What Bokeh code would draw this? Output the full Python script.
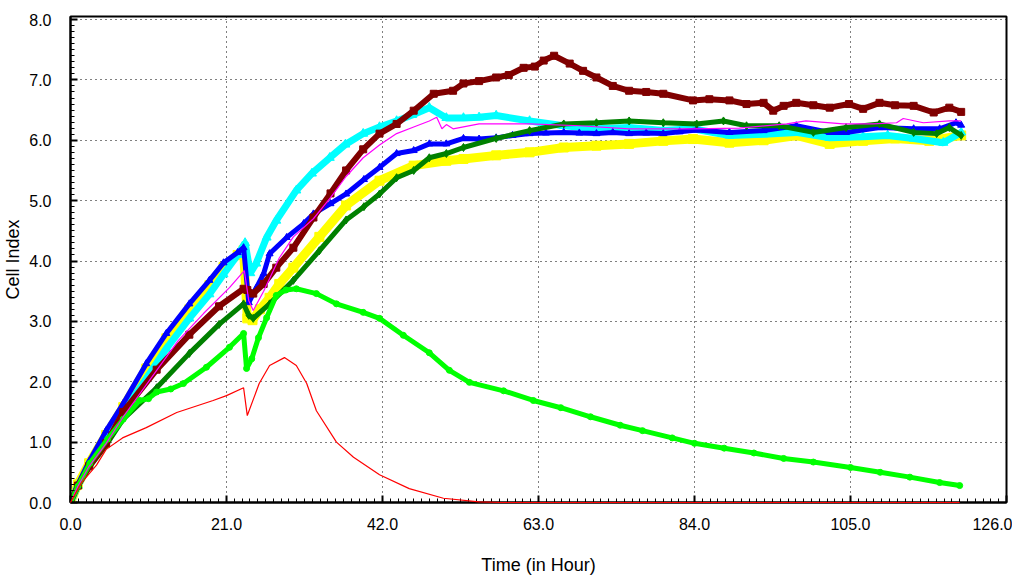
from bokeh.plotting import figure
from bokeh.models import Range1d, NumeralTickFormatter, SingleIntervalTicker
from bokeh.embed import file_html
from bokeh.resources import INLINE

# ---------------- data (hours, cell index) ----------------
blue_t = [0, 1, 2.5, 4.8, 7.1, 10.2, 12.9, 16.0, 18.7, 20.6, 22.5, 23.3, 24.0, 25.0, 26.0, 26.8, 29.1, 31.4,
          32.7, 35, 37.1, 39.5, 41.6, 43.9, 46.2, 48.3, 50.6, 52.9, 55, 57.3, 59.5, 61.8, 64, 66.4, 68.5, 70.8,
          73, 75.2, 77.5, 79.8, 82, 84.3, 88.7, 93.3, 97.7, 102.2, 104.4, 108.9, 113.5, 117, 119.2, 119.9]
blue_v = [0, 0.3, 0.68, 1.19, 1.64, 2.3, 2.8, 3.29, 3.68, 3.97, 4.14, 4.22, 3.31, 3.55, 3.79, 4.12, 4.39, 4.62,
          4.78, 4.95, 5.11, 5.35, 5.55, 5.78, 5.83, 5.94, 5.94, 6.03, 6.02, 6.04, 6.08, 6.11, 6.12, 6.13, 6.12, 6.11,
          6.13, 6.11, 6.12, 6.11, 6.14, 6.17, 6.13, 6.16, 6.24, 6.13, 6.13, 6.21, 6.19, 6.19, 6.29, 6.25]

yellow_t = [0, 1, 2.5, 4.8, 7.1, 10.2, 12.9, 16, 18.7, 20.6, 22.5, 23.3, 23.8, 24.5, 25.5, 26.8, 28.1, 30,
            33.5, 37.1, 41.6, 46.2, 50.6, 52.9, 57.3, 61.8, 66.4, 70.8, 75.2, 79.8, 83.8, 88.7, 93.3, 97.7,
            102.2, 106.7, 111, 115.6, 119.9]
yellow_v = [0, 0.3, 0.65, 1.12, 1.58, 2.22, 2.72, 3.2, 3.6, 3.9, 4.1, 4.18, 3.05, 3.02, 3.2, 3.39, 3.62, 3.89,
            4.4, 4.92, 5.33, 5.58, 5.66, 5.69, 5.75, 5.8, 5.88, 5.91, 5.94, 5.99, 6.02, 5.96, 6.0, 6.08,
            5.94, 5.99, 6.03, 5.99, 6.08]

cyan_t = [0, 1, 2.5, 4.8, 7.1, 10.2, 12.9, 16, 18.7, 20.6, 22.5, 23.5, 24.2, 25, 26.4, 27.7, 30.4, 32.5, 34.9,
          37, 39.4, 41.6, 43.9, 46, 48.3, 50.6, 52.9, 55, 57.3, 61.8, 66.4, 70.8, 75.2, 79.8, 83.8, 88.7, 93.3,
          97.7, 102.2, 106.7, 110, 113.5, 117.5, 119.9]
cyan_v = [0, 0.28, 0.62, 1.05, 1.5, 2.05, 2.55, 3.05, 3.45, 3.78, 4.1, 4.3, 3.8, 3.96, 4.39, 4.67, 5.17, 5.45, 5.71,
          5.93, 6.11, 6.22, 6.32, 6.42, 6.54, 6.37, 6.37, 6.38, 6.41, 6.32, 6.24, 6.19, 6.21, 6.16, 6.19, 6.08, 6.1,
          6.13, 6.04, 6.06, 6.08, 6.03, 5.96, 6.13]

magenta_t = [0, 1, 2.5, 4.8, 7.1, 11.6, 14.5, 17.9, 21.4, 23.4, 24.0, 24.6, 26, 28.1, 30, 32.7, 35, 37.1, 39.4,
             41.6, 43.9, 46.2, 48.3, 49.3, 50.0, 50.6, 51.5, 55, 61.8, 68.5, 75.2, 83.8, 90, 96.4, 99, 104, 108,
             111.2, 112.1, 114.8, 118.3, 119.9]
magenta_v = [0, 0.27, 0.6, 0.98, 1.42, 2.19, 2.68, 3.13, 3.56, 3.84, 3.34, 3.18, 3.5, 4.05, 4.4, 4.7, 5.05, 5.4, 5.71,
             5.92, 6.11, 6.22, 6.32, 6.38, 6.19, 6.26, 6.19, 6.27, 6.27, 6.24, 6.19, 6.19, 6.2, 6.27, 6.32, 6.27, 6.27,
             6.29, 6.36, 6.29, 6.32, 6.32]

maroon_t = [0, 1, 2.5, 4.8, 7.1, 11.6, 16, 20, 23.3, 23.8, 24.6, 26, 27.7, 30, 32.7, 35, 37.1, 39.4, 41.6, 43.9,
            46.2, 48.9, 51.5, 52.9, 55, 57.3, 59, 61, 62.5, 63.7, 65.1, 67.2, 69, 70.8, 73, 75.2, 77.5, 79.8, 83.8,
            86, 88.7, 91, 93.3, 94.6, 96, 97.7, 100, 102.2, 104.8, 106.7, 108.9, 111, 113.5, 116.2, 118.3, 119.9]
maroon_v = [0, 0.28, 0.6, 0.98, 1.5, 2.2, 2.78, 3.25, 3.54, 3.52, 3.46, 3.62, 3.89, 4.22, 4.72, 5.12, 5.5, 5.85, 6.11,
            6.27, 6.49, 6.77, 6.82, 6.94, 6.98, 7.04, 7.08, 7.2, 7.22, 7.32, 7.4, 7.27, 7.15, 7.04, 6.9, 6.82, 6.8,
            6.77, 6.66, 6.68, 6.66, 6.6, 6.62, 6.49, 6.57, 6.62, 6.58, 6.54, 6.6, 6.52, 6.62, 6.58, 6.57, 6.46,
            6.54, 6.47]

dkgreen_t = [0, 1, 2.5, 4.8, 7.1, 11.6, 16, 20, 23.3, 24.0, 24.6, 26.8, 30, 33.5, 37.1, 39.5, 41.6, 43.9, 46.2,
             48.3, 50.6, 52.9, 57.3, 61.8, 66.4, 70.8, 75.2, 79.8, 84.3, 87.9, 91, 95.4, 100, 104.4, 108.9, 113.5,
             116.6, 118.3, 119.9]
dkgreen_v = [0, 0.27, 0.58, 0.95, 1.38, 1.9, 2.47, 2.95, 3.29, 3.1, 3.05, 3.29, 3.68, 4.17, 4.68, 4.9, 5.11, 5.38,
             5.5, 5.71, 5.78, 5.88, 6.03, 6.16, 6.27, 6.29, 6.32, 6.29, 6.27, 6.32, 6.24, 6.24, 6.13, 6.21, 6.27,
             6.13, 6.11, 6.21, 6.08]

lime_t = [0, 1, 2.6, 5, 7.1, 9.3, 10.5, 11.6, 13.5, 15.2, 18.3, 21.4, 23.3, 23.7, 24.4, 25.3, 26.4, 27.7, 29,
          30.4, 33.1, 35.8, 39.4, 41.6, 44.8, 48.3, 51, 53.7, 58.3, 62.3, 66, 70, 74, 77, 81, 84, 88, 92, 96,
          100, 105, 109, 113, 117, 119.7]
lime_v = [0, 0.27, 0.65, 1.05, 1.38, 1.69, 1.72, 1.83, 1.88, 1.97, 2.24, 2.57, 2.8, 2.22, 2.38, 2.73, 3.06, 3.43,
          3.52, 3.54, 3.46, 3.29, 3.15, 3.05, 2.77, 2.48, 2.19, 1.99, 1.85, 1.69, 1.57, 1.42, 1.28, 1.19, 1.07,
          0.98, 0.9, 0.82, 0.73, 0.67, 0.58, 0.5, 0.42, 0.33, 0.28]

red_t = [0, 1.5, 3.5, 4.8, 7, 10.2, 14.3, 19.2, 21, 23.3, 23.8, 25.4, 26.8, 28.8, 30.4, 31.8, 33.1, 35.8, 38.1,
         41.6, 45.6, 50.2, 55, 58, 119.7]
red_v = [0, 0.33, 0.62, 0.88, 1.07, 1.24, 1.49, 1.69, 1.77, 1.9, 1.44, 1.97, 2.27, 2.4, 2.27, 1.97, 1.52, 1.0, 0.75,
         0.46, 0.23, 0.07, 0.01, 0, 0]

x_label = "Time (in Hour)"
y_label = "Cell Index"

# ---------------- figure ----------------
p = figure(frame_width=936, frame_height=486, output_backend="svg", toolbar_location=None,
           x_range=Range1d(0, 126), y_range=Range1d(0, 8.05),
           min_border_left=66, min_border_right=6, min_border_top=16, min_border_bottom=62,
           background_fill_color="white", border_fill_color="white")
p.outline_line_color = "black"
p.outline_line_width = 2

FONT = "Liberation Sans"

p.xaxis.ticker = SingleIntervalTicker(interval=21, num_minor_ticks=20)
p.yaxis.ticker = SingleIntervalTicker(interval=1, num_minor_ticks=10)
for ax in (p.xaxis[0], p.yaxis[0]):
    ax.formatter = NumeralTickFormatter(format="0.0")
    ax.axis_line_color = "black"
    ax.axis_line_width = 2
    ax.major_tick_in = 7
    ax.major_tick_out = 0
    ax.minor_tick_in = 4
    ax.minor_tick_out = 0
    ax.major_tick_line_color = "black"
    ax.minor_tick_line_color = "black"
    ax.major_tick_line_width = 2
    ax.major_label_text_font = FONT
    ax.major_label_text_font_size = "16px"
    ax.major_label_text_color = "black"
    ax.axis_label_text_font = FONT
    ax.axis_label_text_font_size = "18px"
    ax.axis_label_text_font_style = "normal"
    ax.axis_label_text_color = "black"

p.xaxis.axis_label = x_label
p.yaxis.axis_label = y_label
p.xaxis.major_label_standoff = 15
p.xaxis.axis_label_standoff = 22
p.yaxis.major_label_standoff = 19
p.yaxis.axis_label_standoff = 3

for g in (p.xgrid[0], p.ygrid[0]):
    g.grid_line_color = "black"
    g.grid_line_dash = "1 4"
    g.grid_line_width = 1

# ---------------- series ----------------
p.line(yellow_t, yellow_v, line_color="#FFFF00", line_width=9)
p.scatter(yellow_t, yellow_v, marker="square", size=9, fill_color="#FFFF00", line_color="#FFFF00")

p.line(cyan_t, cyan_v, line_color="#00FFFF", line_width=7)
p.scatter(cyan_t, cyan_v, marker="triangle", size=9, fill_color="#00FFFF", line_color="#00FFFF")

p.line(blue_t, blue_v, line_color="#0000FF", line_width=5)
p.scatter(blue_t, blue_v, marker="triangle", size=7, fill_color="#0000FF", line_color="#0000FF")

p.line(dkgreen_t, dkgreen_v, line_color="#008000", line_width=5)
p.scatter(dkgreen_t, dkgreen_v, marker="diamond", size=8, fill_color="#008000", line_color="#008000")

p.line(maroon_t, maroon_v, line_color="#800000", line_width=6)
p.scatter(maroon_t, maroon_v, marker="square", size=7, fill_color="#800000", line_color="#800000")

p.line(lime_t, lime_v, line_color="#00FF00", line_width=5)
p.scatter(lime_t, lime_v, marker="circle", size=6, fill_color="#00FF00", line_color="#00FF00")

p.line(magenta_t, magenta_v, line_color="#FF00FF", line_width=1.2)

red_r = p.line(red_t, red_v, line_color="#FF0000", line_width=1.2)
red_r.level = "overlay"

open("out.html", "w").write(file_html(p, INLINE))
